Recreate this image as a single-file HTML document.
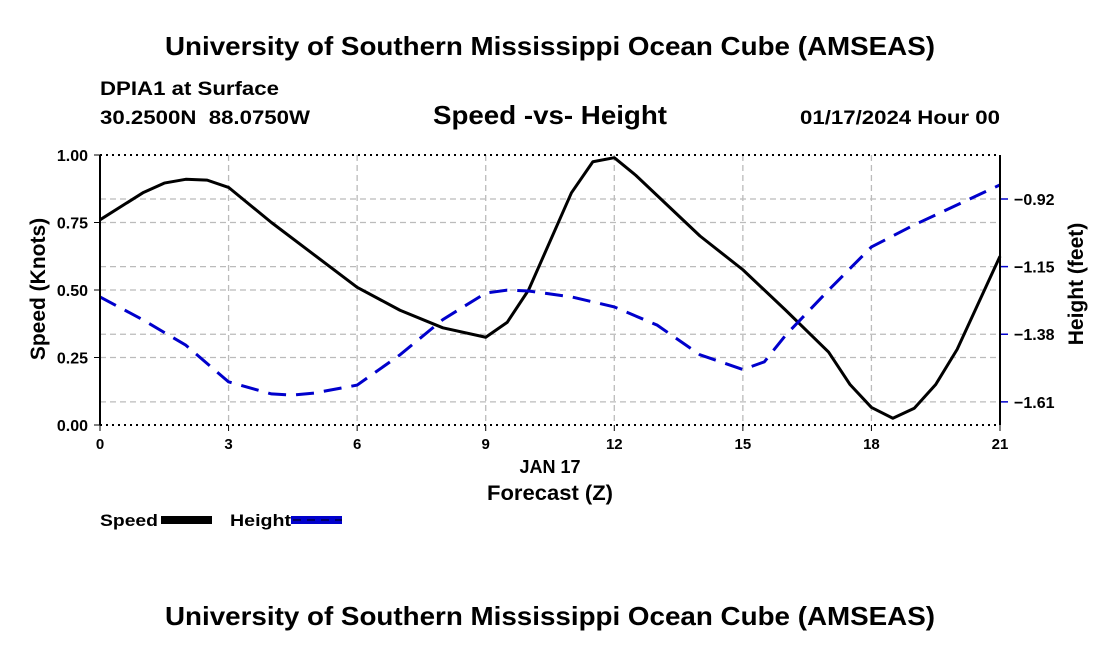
<!DOCTYPE html>
<html><head><meta charset="utf-8"><style>
body{margin:0;background:#fff;}
svg{display:block;font-family:"Liberation Sans",Arial,sans-serif;font-weight:bold;}
</style></head><body>
<svg id="chart" width="1100" height="650" viewBox="0 0 1100 650">
<text x="165" y="55" font-size="26" textLength="770" lengthAdjust="spacingAndGlyphs">University of Southern Mississippi Ocean Cube (AMSEAS)</text>
<text x="100" y="95" font-size="19" textLength="179" lengthAdjust="spacingAndGlyphs">DPIA1 at Surface</text>
<text x="100" y="124" font-size="19" textLength="210" lengthAdjust="spacingAndGlyphs" xml:space="preserve">30.2500N  88.0750W</text>
<text x="433" y="124" font-size="26" textLength="234" lengthAdjust="spacingAndGlyphs">Speed -vs- Height</text>
<text x="800" y="124" font-size="19" textLength="200" lengthAdjust="spacingAndGlyphs">01/17/2024 Hour 00</text>
<g id="grid"></g>
<g id="series"></g>
<g id="axes"></g>
<text x="550" y="473" text-anchor="middle" font-size="18">JAN 17</text>
<text x="487" y="500" font-size="21" textLength="126" lengthAdjust="spacingAndGlyphs">Forecast (Z)</text>
<text transform="translate(45,289) rotate(-90)" text-anchor="middle" font-size="21">Speed (Knots)</text>
<text transform="translate(1083,284) rotate(-90)" text-anchor="middle" font-size="21">Height (feet)</text>
<g>
<text x="100" y="526" font-size="17" textLength="58" lengthAdjust="spacingAndGlyphs">Speed</text>
<rect x="161" y="516" width="51" height="8" fill="#000"/>
</g>
<g>
<text x="230" y="526" font-size="17" textLength="61" lengthAdjust="spacingAndGlyphs">Height</text>
<rect x="291" y="516" width="51" height="8" fill="#0000cc"/>
<line x1="293" y1="520" x2="342" y2="520" stroke="#000" stroke-width="1" stroke-dasharray="8,6"/>
</g>
<text x="165" y="625" font-size="26" textLength="770" lengthAdjust="spacingAndGlyphs">University of Southern Mississippi Ocean Cube (AMSEAS)</text>
</svg>
<script>
const hours=[0,1,1.5,2,2.5,3,4,5,6,7,8,9,9.5,10,11,11.5,12,12.5,13,14,15,16,17,17.5,18,18.5,19,19.5,20,21];
const speed=[0.76,0.86,0.896,0.91,0.907,0.88,0.75,0.63,0.51,0.425,0.36,0.325,0.38,0.5,0.86,0.975,0.99,0.925,0.85,0.70,0.575,0.425,0.27,0.15,0.065,0.025,0.062,0.15,0.28,0.625];
const hHours=[0,1,2,3,4,4.5,5,6,7,8,9,9.5,10,11,12,13,14,15,15.5,16,17,18,19,20,21];
const height=[-1.253,-1.331,-1.417,-1.542,-1.583,-1.587,-1.58,-1.553,-1.45,-1.33,-1.24,-1.23,-1.233,-1.253,-1.287,-1.349,-1.45,-1.50,-1.474,-1.383,-1.23,-1.083,-1.008,-0.94,-0.872];
const xTicks=[0,3,6,9,12,15,18,21];
const yTicks=[0,0.25,0.5,0.75,1];
const y2Ticks=[-0.92,-1.15,-1.38,-1.61];
const L=100,R=1000,T=155,B=425;
const NS="http://www.w3.org/2000/svg";
function xs(t){return L+(t-0)/21*(R-L);}
function ys(v){return B-v*(B-T);}
function ys2(h){return 199+(-0.92-h)*294;}
function mk(tag,attrs,parent){const e=document.createElementNS(NS,tag);for(const k in attrs)e.setAttribute(k,attrs[k]);parent.appendChild(e);return e;}
const grid=document.getElementById('grid'),axes=document.getElementById('axes'),ser=document.getElementById('series');
xTicks.forEach(t=>{
 const l=mk('line',{x1:xs(t),x2:xs(t),y1:T,y2:B,stroke:'#bbb','stroke-width':1.3,'stroke-dasharray':'6,4'},grid);
 
 
 const tk=mk('line',{x1:xs(t),x2:xs(t),y1:B,y2:B+6,stroke:'#000','stroke-width':1},axes);
 
 
 const tx=mk('text',{x:xs(t),y:B+24,'text-anchor':'middle','font-size':15},axes);
 tx.textContent=t;
 
 
});
yTicks.forEach(v=>{
 if(v>0&&v<1){const l=mk('line',{x1:L,x2:R,y1:ys(v),y2:ys(v),stroke:'#bbb','stroke-width':1.3,'stroke-dasharray':'6,4'},grid);
 
 }
 const tk=mk('line',{x1:L-6,x2:L,y1:ys(v),y2:ys(v),stroke:'#000','stroke-width':1},axes);
 
 
 const tx=mk('text',{x:L-12,y:ys(v)+6,'text-anchor':'end','font-size':16},axes);
 tx.textContent=v.toFixed(2);
 
 
});
y2Ticks.forEach(h=>{
 const l=mk('line',{x1:L,x2:R,y1:ys2(h),y2:ys2(h),stroke:'#bbb','stroke-width':1.3,'stroke-dasharray':'6,4'},grid);
 
 
 const tk=mk('line',{x1:R,x2:R+8,y1:ys2(h),y2:ys2(h),stroke:'#0000cc','stroke-width':1.5},axes);
 
 
 const tx=mk('text',{x:R+14,y:ys2(h)+6,'font-size':16},axes);
 tx.textContent='\u2212'+Math.abs(h).toFixed(2);
 
 
});
[T,B].forEach(y=>{const l=mk('line',{x1:L,x2:R,y1:y,y2:y,stroke:'#000','stroke-width':2,'stroke-dasharray':'2,4'},axes);
 
 });
[L,R].forEach(x=>{const l=mk('line',{x1:x,x2:x,y1:T,y2:B,stroke:'#000','stroke-width':2},axes);
 
 });
const sp=mk('polyline',{points:hours.map((t,i)=>xs(t)+','+ys(speed[i])).join(' '),fill:'none',stroke:'#000','stroke-width':3,'stroke-linejoin':'round'},ser);


const hl=mk('polyline',{points:hHours.map((t,i)=>xs(t)+','+ys2(height[i])).join(' '),fill:'none',stroke:'#0000cc','stroke-width':3,'stroke-dasharray':'18,10'},ser);


</script>
</body></html>
